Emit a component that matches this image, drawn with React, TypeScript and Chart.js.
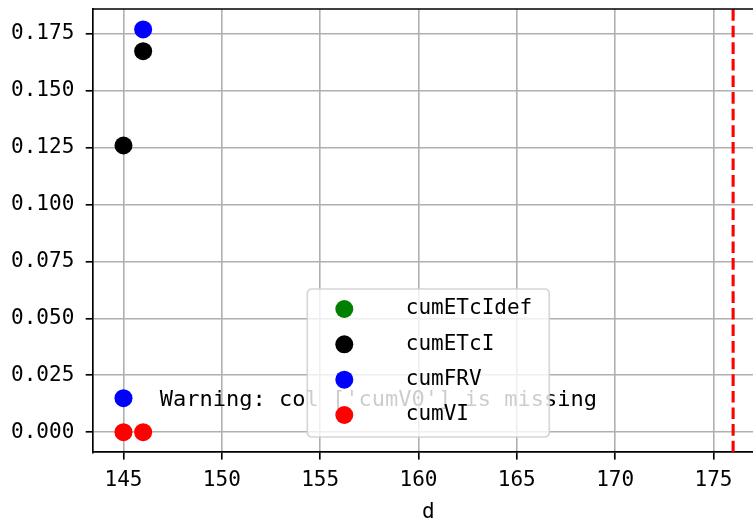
import React, { useEffect, useRef } from "react";
import { Chart, registerables } from "chart.js";

Chart.register(...registerables);

// ---- data ----
const days = [145, 146];
const cumETcIdef: number[] = [];
const cumETcI = [0.1259, 0.1673];
const cumFRV = [0.0149, 0.1769];
const cumVI = [0, 0];

const seriesNames = ["cumETcIdef", "cumETcI", "cumFRV", "cumVI"];
const seriesValues = [cumETcIdef, cumETcI, cumFRV, cumVI];
const seriesColors = ["#008000", "#000000", "#0000ff", "#ff0000"];

const xTicks = [145, 150, 155, 160, 165, 170, 175];
const yTicks = [0, 0.025, 0.05, 0.075, 0.1, 0.125, 0.15, 0.175];

const cutoffDay = 176;
const warningText = "Warning: col ['cumV0'] is missing";
const warningAt = { x: 146.85, y: 0.0115 };
const xTitle = "d";

// axis limits (matplotlib default 5% margins)
const X_MIN = 143.45;
const X_MAX = 177.55;
const Y_MIN = -0.00885;
const Y_MAX = 0.18585;

const FONT = '"DejaVu Sans Mono", monospace';
const CANVAS_W = 780;
const CANVAS_H = 522;

const spinePlugin = {
  id: "topSpine",
  afterDatasetsDraw(chart: any) {
    const { ctx, chartArea: a } = chart;
    ctx.save();
    ctx.strokeStyle = "#000";
    ctx.lineWidth = 1.67;
    ctx.beginPath();
    ctx.moveTo(a.left, a.top);
    ctx.lineTo(a.right, a.top);
    ctx.stroke();
    ctx.restore();
  },
};

const warningPlugin = {
  id: "warningText",
  afterDatasetsDraw(chart: any) {
    const { ctx } = chart;
    const xs = chart.scales.x;
    const ys = chart.scales.y;
    ctx.save();
    ctx.font = `22px ${FONT}`;
    ctx.fillStyle = "#000";
    ctx.textAlign = "left";
    ctx.textBaseline = "alphabetic";
    ctx.fillText(warningText, xs.getPixelForValue(warningAt.x), ys.getPixelForValue(warningAt.y));
    ctx.restore();
  },
};

const legendPlugin = {
  id: "mplLegend",
  afterDraw(chart: any) {
    const { ctx, chartArea: a } = chart;
    const w = 242;
    const h = 148;
    const x0 = (a.left + a.right) / 2 - w / 2;
    const y0 = a.bottom - 15.3 - h;
    const r = 5;
    ctx.save();
    ctx.beginPath();
    ctx.moveTo(x0 + r, y0);
    ctx.lineTo(x0 + w - r, y0);
    ctx.quadraticCurveTo(x0 + w, y0, x0 + w, y0 + r);
    ctx.lineTo(x0 + w, y0 + h - r);
    ctx.quadraticCurveTo(x0 + w, y0 + h, x0 + w - r, y0 + h);
    ctx.lineTo(x0 + r, y0 + h);
    ctx.quadraticCurveTo(x0, y0 + h, x0, y0 + h - r);
    ctx.lineTo(x0, y0 + r);
    ctx.quadraticCurveTo(x0, y0, x0 + r, y0);
    ctx.closePath();
    ctx.fillStyle = "rgba(255,255,255,0.8)";
    ctx.fill();
    ctx.strokeStyle = "rgba(204,204,204,0.8)";
    ctx.lineWidth = 1.67;
    ctx.stroke();

    ctx.font = `21px ${FONT}`;
    ctx.textAlign = "left";
    ctx.textBaseline = "middle";
    seriesNames.forEach((name, i) => {
      const cy = y0 + 20 + i * 35.33;
      ctx.beginPath();
      ctx.arc(x0 + 37, cy, 9, 0, Math.PI * 2);
      ctx.fillStyle = seriesColors[i];
      ctx.fill();
      ctx.fillStyle = "#000";
      ctx.fillText(name, x0 + 98.5, cy);
    });
    ctx.restore();
  },
};

export default function App() {
  const ref = useRef<HTMLCanvasElement | null>(null);

  useEffect(() => {
    if (!ref.current) return;
    const scatterSets = seriesNames.map((name, i) => ({
      type: "scatter" as const,
      label: name,
      data: seriesValues[i].map((v, j) => ({ x: days[j], y: v })),
      backgroundColor: seriesColors[i],
      borderColor: seriesColors[i],
      pointRadius: 9,
      pointBorderWidth: 0,
      pointHoverRadius: 9,
    }));
    const cutoffSet = {
      type: "line" as const,
      label: "cutoff",
      data: [
        { x: cutoffDay, y: Y_MIN },
        { x: cutoffDay, y: Y_MAX },
      ],
      borderColor: "#ff0000",
      borderWidth: 3.1,
      borderDash: [11.6, 5],
      pointRadius: 0,
      fill: false,
    };

    const chart = new Chart(ref.current, {
      type: "scatter",
      data: { datasets: [...scatterSets, cutoffSet] as any },
      options: {
        animation: false,
        responsive: false,
        devicePixelRatio: 1,
        events: [],
        layout: { padding: { left: 0, top: 6.7, right: CANVAS_W - 763.6, bottom: 0 } },
        plugins: { legend: { display: false }, tooltip: { enabled: false } },
        scales: {
          x: {
            type: "linear",
            min: X_MIN,
            max: X_MAX,
            afterBuildTicks: (s: any) => {
              s.ticks = xTicks.map((v) => ({ value: v }));
            },
            afterFit: (s: any) => {
              s.height = CANVAS_H - 452.3;
              s.paddingLeft = 0;
              s.paddingRight = 0;
            },
            ticks: {
              autoSkip: false,
              maxRotation: 0,
              padding: 8,
              color: "#000",
              font: { family: FONT, size: 21 },
              callback: (v: any) => String(v),
            },
            grid: { color: "#b0b0b0", lineWidth: 1.6, tickLength: 7.3, tickColor: "#000", tickWidth: 1.67 },
            border: { display: true, color: "#000", width: 1.67 },
            title: {
              display: true,
              text: xTitle,
              color: "#000",
              font: { family: FONT, size: 21, lineHeight: 0.8 },
              padding: { top: 0, bottom: 0.9 },
            },
          },
          y: {
            type: "linear",
            min: Y_MIN,
            max: Y_MAX,
            afterBuildTicks: (s: any) => {
              s.ticks = yTicks.map((v) => ({ value: v }));
            },
            afterFit: (s: any) => {
              s.width = 93;
              s.paddingTop = 0;
              s.paddingBottom = 0;
            },
            ticks: {
              autoSkip: false,
              padding: 11.4,
              color: "#000",
              font: { family: FONT, size: 21 },
              callback: (v: any) => Number(v).toFixed(3),
            },
            grid: { color: "#b0b0b0", lineWidth: 1.6, tickLength: 7.3, tickColor: "#000", tickWidth: 1.67 },
            border: { display: true, color: "#000", width: 1.67 },
          },
        },
      } as any,
      plugins: [spinePlugin, warningPlugin, legendPlugin],
    });
    return () => chart.destroy();
  }, []);

  return (
    <div
      style={{
        position: "fixed",
        left: 0,
        top: 0,
        width: 753,
        height: 522,
        overflow: "hidden",
        background: "#fff",
      }}
    >
      <canvas
        ref={ref}
        width={CANVAS_W}
        height={CANVAS_H}
        style={{ display: "block", width: CANVAS_W, height: CANVAS_H }}
      />
    </div>
  );
}
